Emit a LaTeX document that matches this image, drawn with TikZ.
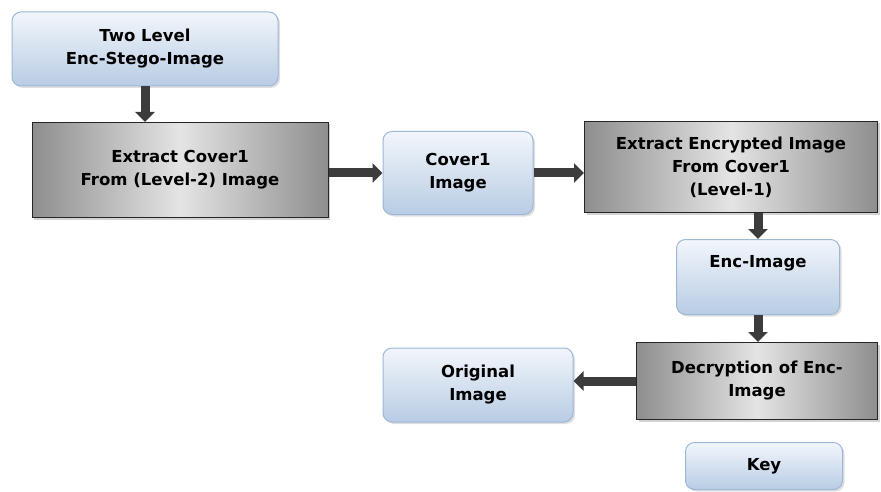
\documentclass[tikz,border=0pt]{standalone}
\usepackage{fontspec}
\setmainfont{DejaVu Sans}
\usepackage{tikz}
\usetikzlibrary{arrows.meta,shadows}
\definecolor{boxtop}{HTML}{F2F6FB}
\definecolor{boxbot}{HTML}{B8CCE4}
\definecolor{boxline}{HTML}{9DB7D8}
\definecolor{greyedge}{HTML}{8E8E8E}
\definecolor{greymid}{HTML}{E4E4E4}
\definecolor{arrowgrey}{HTML}{3C3C3C}
\tikzset{
  imgbox/.style={rounded corners=9pt, draw=boxline, line width=1pt,
    top color=boxtop, bottom color=boxbot, align=center,
    font=\bfseries\fontsize{16.5}{23}\selectfont,
    drop shadow={opacity=0.25, shadow xshift=2pt, shadow yshift=-2pt}},
  stepbox/.style={draw=black!85, line width=1pt, left color=greyedge,
    right color=greyedge, middle color=greymid, align=center,
    font=\bfseries\fontsize{16.5}{23}\selectfont,
    drop shadow={opacity=0.35, shadow xshift=2pt, shadow yshift=-2pt}},
  blockarrow/.style={draw=arrowgrey, line width=9pt,
    -{Triangle[width=19pt,length=10pt]}}
}
\begin{document}
\begin{tikzpicture}[x=1pt, y=-1pt]
        \useasboundingbox (0,0) rectangle (881,492);
        \node[imgbox, minimum width=266pt, minimum height=74pt] (stego) at (145,49) {Two Level\\Enc-Stego-Image};
        \node[stepbox, minimum width=296pt, minimum height=95pt] (extractone) at (180,170) {Extract Cover1\\From (Level-2) Image};
        \node[imgbox, minimum width=150pt, minimum height=83pt] (cover) at (458,173) {Cover1\\Image};
        \node[stepbox, minimum width=293pt, minimum height=91pt] (extracttwo) at (731,167) {Extract Encrypted Image\\From Cover1\\(Level-1)};
        \node[imgbox, minimum width=163pt, minimum height=75pt] (enc) at (758,277) {Enc-Image\\[8pt]\mbox{}};
        \node[stepbox, minimum width=241pt, minimum height=77pt] (decrypt) at (757,381) {Decryption of Enc-\\Image};
        \node[imgbox, minimum width=190pt, minimum height=74pt] (orig) at (478,385) {Original\\Image};
        \node[imgbox, minimum width=157pt, minimum height=47pt] (key) at (764,466) {Key};
        \draw[blockarrow] (stego.south) -- (stego.south |- extractone.north);
        \draw[blockarrow] (cover.west -| extractone.east) -- (cover.west);
        \draw[blockarrow] (cover.east) -- (cover.east -| extracttwo.west);
        \draw[blockarrow] (enc.north |- extracttwo.south) -- (enc.north);
        \draw[blockarrow] (enc.south) -- (enc.south |- decrypt.north);
        \draw[blockarrow] (decrypt.west) -- (decrypt.west -| orig.east);
    \end{tikzpicture}
\end{document}
